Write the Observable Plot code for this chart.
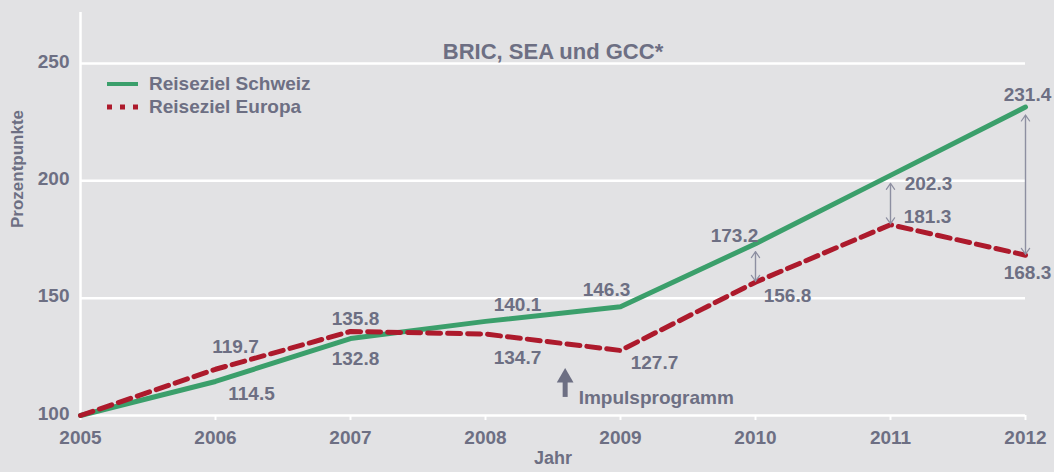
<!DOCTYPE html>
<html><head><meta charset="utf-8">
<script src="https://cdn.jsdelivr.net/npm/d3@7"></script>
<script src="https://cdn.jsdelivr.net/npm/@observablehq/plot@0.6"></script>
<style>
body{margin:0;background:#e2e2e4;font-family:"Liberation Sans",Arial,sans-serif;}
#wrap{position:relative;width:1054px;height:472px;}
#legend{position:absolute;left:107px;top:72px;color:#6d6f83;font-weight:bold;font-size:19px;}
.item{display:flex;align-items:center;height:23px;white-space:nowrap;}
.item svg{margin-right:11px;display:block}
</style></head><body><div id="wrap"><div id="chart"></div><div id="legend"></div></div>
<script>
// ---- data ----
const years = [2005, 2006, 2007, 2008, 2009, 2010, 2011, 2012];
const schweiz = [100, 114.5, 132.8, 140.1, 146.3, 173.2, 202.3, 231.4];
const europa = [100, 119.7, 135.8, 134.7, 127.7, 156.8, 181.3, 168.3];
const gapYears = [2010, 2011, 2012];
const yTicks = [100, 150, 200, 250];
const seriesNames = ["Reiseziel Schweiz", "Reiseziel Europa"];
const title = "BRIC, SEA und GCC*";
const yLabel = "Prozentpunkte";
const xLabel = "Jahr";
const impulseText = "Impulsprogramm";
const impulseYear = 2008.59;
const impulseFrom = 107.7;
const impulseTo = 116.1;
const impulseTextYear = 2008.69;
const impulseTextValue = 107.5;

// ---- layout (label offsets in px, null = no label) ----
const schweizOffsets = [null, [36, 12], [5, 20], [32, -16], [-14, -17], [-21, -8], [38, 9], [2, -12]];
const europaOffsets = [null, [20, -22], [5, -13], [32, 24], [34, 12], [32, 14], [37, -8], [2, 18]];

const textColor = "#6d6f83";
const green = "#3b9f6b";
const red = "#ad1a2c";
const arrowColor = "#8d8fa1";

const sData = years.map((x, i) => ({x, y: schweiz[i]}));
const eData = years.map((x, i) => ({x, y: europa[i]}));
const gapData = gapYears.map(yr => {
  const i = years.indexOf(yr);
  return {x: yr, s: schweiz[i], e: europa[i]};
});

const labelMarks = [];
[[sData, schweizOffsets], [eData, europaOffsets]].forEach(([data, offs]) => {
  data.forEach((d, i) => {
    if (!offs[i]) return;
    labelMarks.push(Plot.text([d], {
      x: "x", y: "y", text: d => d.y.toFixed(1),
      dx: offs[i][0], dy: offs[i][1],
      fill: textColor, fontSize: 19, fontWeight: "bold"
    }));
  });
});

const chart = Plot.plot({
  width: 1054,
  height: 472,
  marginLeft: 80,
  marginRight: 29,
  marginTop: 12,
  marginBottom: 57,
  style: {background: "#e2e2e4", color: textColor, fontFamily: "'Liberation Sans', Arial, sans-serif", fontSize: "19px", fontWeight: "bold"},
  x: {domain: [2005, 2012]},
  y: {domain: [100, 271.7]},
  marks: [
    Plot.ruleY(yTicks, {stroke: "white", strokeWidth: 2.5}),
    Plot.ruleX([years[0]], {stroke: "white", strokeWidth: 2.5}),
    Plot.axisX({ticks: years, tickFormat: d => String(d), tickSize: 5, tickPadding: 10, stroke: "white", strokeWidth: 2, label: null, fill: textColor, fontSize: 19, fontWeight: "bold"}),
    Plot.axisY({ticks: yTicks, tickSize: 0, tickPadding: 11, label: null, dy: -2, fill: textColor, fontSize: 19, fontWeight: "bold"}),
    Plot.line(sData, {x: "x", y: "y", stroke: green, strokeWidth: 5, strokeLinejoin: "round"}),
    Plot.line(eData, {x: "x", y: "y", stroke: red, strokeWidth: 5, strokeDasharray: "13,7"}),
    Plot.arrow(gapData, {x1: "x", x2: "x", y1: "e", y2: "s", stroke: arrowColor, strokeWidth: 1.2, headLength: 9, headAngle: 70, insetStart: 1, insetEnd: 8}),
    Plot.arrow(gapData, {x1: "x", x2: "x", y1: "s", y2: "e", stroke: arrowColor, strokeWidth: 1.2, headLength: 9, headAngle: 70, insetStart: 8, insetEnd: 1}),
    ...labelMarks,
    Plot.ruleX([impulseYear], {y1: impulseFrom, y2: impulseTo, stroke: textColor, strokeWidth: 5}),
    Plot.dot([impulseYear], {x: d => d, y: impulseTo, symbol: "triangle", r: 6.2, fill: textColor, stroke: null}),
    Plot.text([impulseText], {x: impulseTextYear, y: impulseTextValue, text: d => d, textAnchor: "start", fill: textColor, fontSize: 19, fontWeight: "bold"}),
    Plot.text([title], {frameAnchor: "top", dy: 31, text: d => d, fill: textColor, fontSize: 22, fontWeight: "bold"}),
    Plot.text([yLabel], {frameAnchor: "left", dx: -63, dy: 14, rotate: -90, text: d => d, fill: textColor, fontSize: 17, fontWeight: "bold"}),
    Plot.text([xLabel], {frameAnchor: "bottom", dy: 48, text: d => d, fill: textColor, fontSize: 18, fontWeight: "bold"})
  ]
});
document.getElementById("chart").appendChild(chart);

// legend
const legend = document.getElementById("legend");
const swatches = [
  `<svg width="31" height="8"><line x1="0" x2="31" y1="4" y2="4" stroke="${green}" stroke-width="4"/></svg>`,
  `<svg width="31" height="8"><line x1="0" x2="31" y1="4" y2="4" stroke="${red}" stroke-width="5" stroke-dasharray="5,8"/></svg>`
];
seriesNames.forEach((name, i) => {
  const div = document.createElement("div");
  div.className = "item";
  div.innerHTML = swatches[i] + `<span>${name}</span>`;
  legend.appendChild(div);
});
</script>
</body></html>
